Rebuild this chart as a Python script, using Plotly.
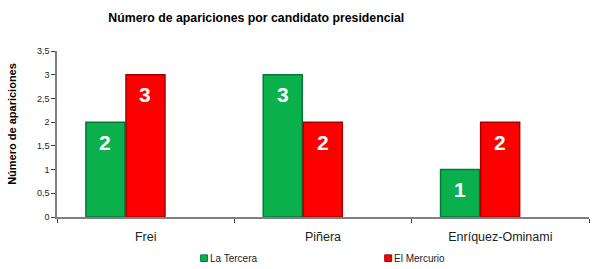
import plotly.graph_objects as go

categories = ["Frei", "Piñera", "Enríquez-Ominami"]
la_tercera = [2, 3, 1]
el_mercurio = [3, 2, 2]
series_names = ["La Tercera", "El Mercurio"]
y_ticks = [0, 0.5, 1, 1.5, 2, 2.5, 3, 3.5]

FONT = "Arial, Liberation Sans, sans-serif"
GREEN = "#0AB04C"
GREEN_DARK = "#06773A"
RED = "#FF0000"
RED_DARK = "#A80000"
BAR_W = 0.22
OFFSETS = [-0.337, -0.111]
CAT_PX = 177.3

fig = go.Figure()
series = [(la_tercera, GREEN, GREEN_DARK), (el_mercurio, RED, RED_DARK)]
for i, (vals, c, cd) in enumerate(series):
    fig.add_trace(go.Bar(
        x=categories, y=vals, name=series_names[i],
        width=BAR_W, offset=OFFSETS[i],
        marker=dict(color=c, line=dict(color=cd, width=1.5)),
        showlegend=False,
    ))
    shift = (OFFSETS[i] + BAR_W / 2) * CAT_PX
    for cat, v in zip(categories, vals):
        fig.add_annotation(x=cat, y=v, text=f"<b>{v}</b>", showarrow=False,
                           xshift=shift, yshift=-20, yanchor="middle",
                           font=dict(family=FONT, size=21, color="white"))

# manual legend
legend_items = [(series_names[0], GREEN, GREEN_DARK, 0.270), (series_names[1], RED, RED_DARK, 0.616)]
for name, c, cd, xp in legend_items:
    fig.add_shape(type="rect", xref="paper", yref="paper",
                  x0=xp, x1=xp + 0.013, y0=-0.228, y1=-0.268,
                  fillcolor=c, line=dict(color=cd, width=1))
    fig.add_annotation(text=name, xref="paper", yref="paper", x=xp + 0.0135, y=-0.248,
                       xanchor="left", yanchor="middle", showarrow=False,
                       font=dict(family=FONT, size=10, color="#222222"))

fig.add_annotation(text="<b>Número de apariciones</b>", xref="paper", yref="paper",
                   x=-0.085, y=0.56, xanchor="center", yanchor="middle", textangle=-90,
                   showarrow=False, font=dict(family=FONT, size=11, color="black"))

fig.update_layout(
    width=596, height=269,
    margin=dict(l=57, r=7, t=51, b=52),
    paper_bgcolor="white", plot_bgcolor="white",
    separators=",.",
    barmode="overlay",
    title=dict(text="<b>Número de apariciones por candidato presidencial</b>",
               x=0.43, xanchor="center", y=0.935, yanchor="middle",
               font=dict(family=FONT, size=12.3, color="black")),
    xaxis=dict(type="category", showline=True, linecolor="#808080", linewidth=2,
               ticks="outside", tickson="boundaries", ticklen=4, tickcolor="#404040",
               ticklabelstandoff=7,
               tickfont=dict(family=FONT, size=12.5, color="#222222"),
               showgrid=False, range=[-0.5, 2.5]),
    yaxis=dict(range=[0, 3.5], tickvals=y_ticks, showline=True, linecolor="#808080",
               linewidth=1.5, ticks="outside", ticklen=4, tickcolor="#404040",
               tickfont=dict(family=FONT, size=9, color="#222222"),
               showgrid=False, zeroline=False),
    showlegend=False,
)

fig.write_html("out.html")
